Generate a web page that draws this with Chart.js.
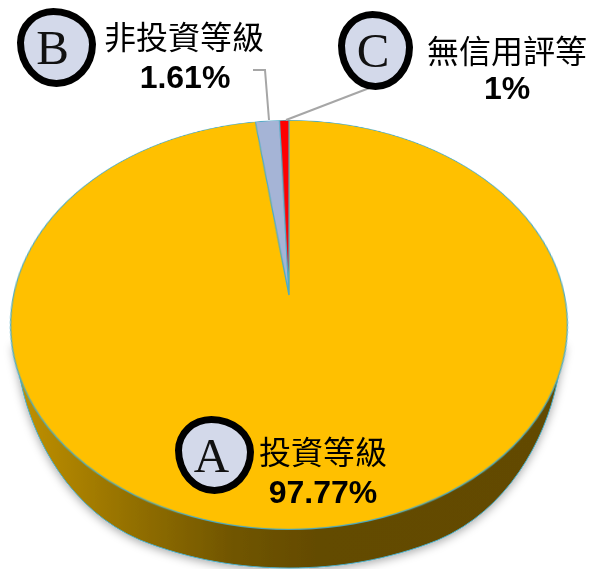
<!DOCTYPE html>
<html>
<head>
<meta charset="utf-8">
<script src="https://cdn.jsdelivr.net/npm/chart.js@4"></script>
<style>
html, body { margin: 0; padding: 0; background: #fff; }
#stage { position: relative; width: 591px; height: 569px; overflow: hidden; perspective: 1296px; perspective-origin: 289px 295px; }
#wall { position: absolute; left: 0; top: 0; }
#pieBox { position: absolute; left: -11px; top: -5px; width: 600px; height: 600px; transform-origin: 300px 300px; transform: rotateX(43.4deg); }
#over { position: absolute; left: 0; top: 0; }
.name { position: absolute; font-family: "Noto Sans CJK TC", sans-serif; font-size: 32px; line-height: 36px; color: #000; white-space: nowrap; transform: translateX(-50%); }
.pct { position: absolute; font-family: "Liberation Sans", sans-serif; font-weight: bold; font-size: 32px; line-height: 36px; color: #000; white-space: nowrap; transform: translateX(-50%); }
.badge { position: absolute; box-sizing: border-box; border: 7px solid #000; background: #D3D9EA; font-family: "Liberation Serif", serif; font-size: 49px; line-height: 1; color: #111; display: flex; align-items: center; justify-content: center; border-radius: 46% 54% 50% 50% / 44% 46% 54% 56%; }
</style>
</head>
<body>
<div id="stage">
  <svg id="wall" width="591" height="569">
    <defs>
      <linearGradient id="wallFill" gradientUnits="userSpaceOnUse" x1="14" y1="0" x2="564" y2="0">
        <stop offset="0" stop-color="#C29200"/>
        <stop offset="0.22" stop-color="#926F00"/>
        <stop offset="0.4" stop-color="#705500"/>
        <stop offset="0.55" stop-color="#644B00"/>
        <stop offset="1" stop-color="#624A00"/>
      </linearGradient>
      <filter id="soft" x="-5%" y="-5%" width="110%" height="115%">
        <feDropShadow dx="0" dy="2" stdDeviation="5" flood-color="#000" flood-opacity="0.35"/>
      </filter>
    </defs>
    <path d="M13,345 L21,383 C33,440 70,510 140,540 C190,560 240,568 289,568 C338,568 388,560 438,540 C508,510 545,440 557,383 L565,345 Z" fill="url(#wallFill)" stroke="#4BACC6" stroke-width="1" filter="url(#soft)"/>
  </svg>
  <div id="pieBox"><canvas id="pie" width="600" height="600"></canvas></div>
  <svg id="over" width="591" height="569">
    <polyline points="253,70 265,70 269,120" fill="none" stroke="#A6A6A6" stroke-width="2"/>
    <polyline points="372,87 286,120" fill="none" stroke="#A6A6A6" stroke-width="2"/>
  </svg>
</div>
<script>
// Chart data
const categories = ['投資等級', '非投資等級', '無信用評等'];
const letters = ['A', 'B', 'C'];
const values = [97.77, 1.61, 0.62];
const shownValues = ['97.77%', '1.61%', '1%'];
const sliceColors = ['#FFC000', '#A5B4D6', '#FF0000'];

new Chart(document.getElementById('pie'), {
    type: 'pie',
    data: {
        labels: categories,
        datasets: [{ data: values, backgroundColor: sliceColors, borderColor: '#4BACC6', borderWidth: 1.2 }]
    },
    options: {
        responsive: false,
        devicePixelRatio: 2,
        animation: false,
        layout: { padding: 24 },
        plugins: { legend: { display: false }, tooltip: { enabled: false } }
    }
});

// Labels on top of the tilted pie
const stage = document.getElementById('stage');
const badgeBoxes = [[175, 416, 79, 78], [17, 8, 79, 79], [338, 11, 75, 79]];
const letterPad = [6, 8, 5];
const namePos = [[323, 432], [184, 17], [507, 31]];
const pctPos = [[323, 474], [185, 59], [507, 70]];

function addEl(cls, text, x, y) {
    const el = document.createElement('div');
    el.className = cls;
    el.textContent = text;
    el.style.left = x + 'px';
    el.style.top = y + 'px';
    stage.appendChild(el);
    return el;
}

categories.forEach((name, i) => {
    const b = addEl('badge', letters[i], badgeBoxes[i][0], badgeBoxes[i][1]);
    b.style.width = badgeBoxes[i][2] + 'px';
    b.style.height = badgeBoxes[i][3] + 'px';
    b.style.paddingRight = letterPad[i] + 'px';
    addEl('name', name, namePos[i][0], namePos[i][1]);
    addEl('pct', shownValues[i], pctPos[i][0], pctPos[i][1]);
});
</script>
</body>
</html>
